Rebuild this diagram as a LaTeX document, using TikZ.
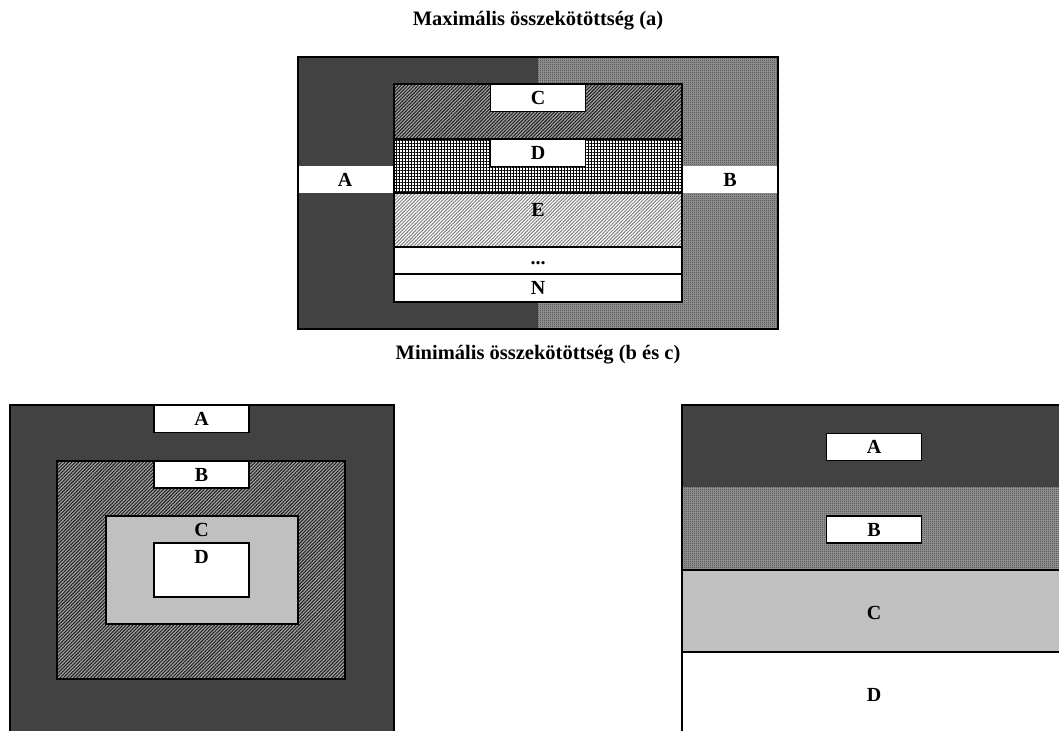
\documentclass[tikz,border=0pt]{standalone}
\usepackage{fontspec}
\setmainfont{Liberation Serif}
\usetikzlibrary{patterns.meta}
\pgfdeclarepattern{
  name=checker,
  type=uncolored,
  bottom left={\pgfpoint{0pt}{0pt}},
  top right={\pgfpoint{2pt}{2pt}},
  tile size={\pgfpoint{2pt}{2pt}},
  code={\pgfpathrectangle{\pgfpointorigin}{\pgfpoint{1pt}{1pt}}%
        \pgfpathrectangle{\pgfpoint{1pt}{1pt}}{\pgfpoint{1pt}{1pt}}%
        \pgfusepath{fill}}
}
\definecolor{darkfill}{HTML}{424242}
\definecolor{lightgrayfill}{HTML}{C0C0C0}
\definecolor{checkbg}{HTML}{9A9A9A}
\definecolor{checkfg}{HTML}{3A3A3A}
\definecolor{diagbg}{HTML}{A8A8A8}
\definecolor{diagfg}{HTML}{222222}
\tikzset{
  darkreg/.style={fill=darkfill},
  checkreg/.style={pattern=checker,pattern color=checkfg},
  diagdark/.style={pattern={Lines[angle=45,distance=2.4pt,line width=1.1pt]},pattern color=diagfg},
  diaglight/.style={pattern={Lines[angle=45,distance=2.4pt,line width=1.0pt]},pattern color=gray},
  gridreg/.style={pattern={Hatch[distance=3pt,line width=0.9pt]},pattern color=black},
  border/.style={draw=black,line width=1.5pt},
  lbl/.style={font=\bfseries\fontsize{20}{22}\selectfont,inner sep=0pt},
  ttl/.style={font=\bfseries\fontsize{20.5}{23}\selectfont,inner sep=0pt},
  lblbox/.style={draw=black,line width=1.4pt,fill=white,lbl,minimum width=95pt,minimum height=27pt},
}
\begin{document}
\begin{tikzpicture}[x=1pt,y=-1pt]
\useasboundingbox (0,0) rectangle (1059,731);
% ---------- top diagram ----------
\node[ttl] (t1) at (538,21) {Maximális összekötöttség (a)};
\fill[darkreg] (298,57) rectangle (538,329);
\fill[checkbg] (538,57) rectangle (778,329);
\fill[checkreg] (538,57) rectangle (778,329);
\fill[white] (298,166) rectangle (394,193);
\fill[white] (682,166) rectangle (778,193);
% inner bands
\fill[white] (394,84) rectangle (682,302);
\fill[diagbg] (394,84) rectangle (682,139);
\fill[diagdark] (394,84) rectangle (682,139);
\fill[gridreg] (394,139) rectangle (682,193);
\fill[diaglight] (394,193) rectangle (682,247);
\draw[line width=1.2pt] (394,139) -- (682,139);
\draw[line width=1.6pt] (394,193) -- (682,193);
\draw[line width=1.2pt] (394,247) -- (682,247);
\draw[line width=1.6pt] (394,274) -- (682,274);
\draw[line width=1.2pt] (394,84) rectangle (682,302);
\draw[border] (298,57) rectangle (778,329);
\node[lblbox] (C1) at (538,98) {C};
\node[lblbox] (D1) at (538,153) {D};
\node[lbl] (A1) at (345,180) {A};
\node[lbl] (B1) at (730,180) {B};
\node[lbl] (E1) at (538,210) {E};
\node[lbl] (dots1) at (538,263) {...};
\node[lbl] (N1) at (538,288) {N};
% ---------- subtitle ----------
\node[ttl] (t2) at (538,355) {Minimális összekötöttség (b és c)};
% ---------- bottom left ----------
\fill[darkreg] (10,405) rectangle (394,731);
\fill[diagbg] (57,461) rectangle (345,679);
\fill[diagdark] (57,461) rectangle (345,679);
\draw[line width=1.1pt] (57,461) rectangle (345,679);
\fill[lightgrayfill] (106,516) rectangle (298,624);
\draw[line width=1.1pt] (106,516) rectangle (298,624);
\draw[border] (10,731) -- (10,405) -- (394,405) -- (394,731);
\node[lblbox] (A2) at (201.5,419) {A};
\node[lblbox] (B2) at (201.5,474.5) {B};
\node[lbl] (C2) at (201.5,530) {C};
\node[draw=black,line width=1.1pt,fill=white,minimum width=95pt,minimum height=54pt,inner sep=0pt] (Dbox2) at (201.5,570) {};
\node[lbl] (D2) at (201.5,557) {D};
% ---------- bottom right ----------
\fill[darkreg] (682,405) rectangle (1059,487);
\fill[checkbg] (682,487) rectangle (1059,570);
\fill[checkreg] (682,487) rectangle (1059,570);
\fill[lightgrayfill] (682,570) rectangle (1059,652);
\draw[line width=1.1pt] (682,570) -- (1059,570);
\draw[line width=1.6pt] (682,652) -- (1059,652);
\draw[border] (682,731) -- (682,405) -- (1059,405);
\node[lblbox] (A3) at (874,447) {A};
\node[lblbox] (B3) at (874,529.5) {B};
\node[lbl] (C3) at (874,613) {C};
\node[lbl] (D3) at (874,695) {D};
\end{tikzpicture}
\end{document}
